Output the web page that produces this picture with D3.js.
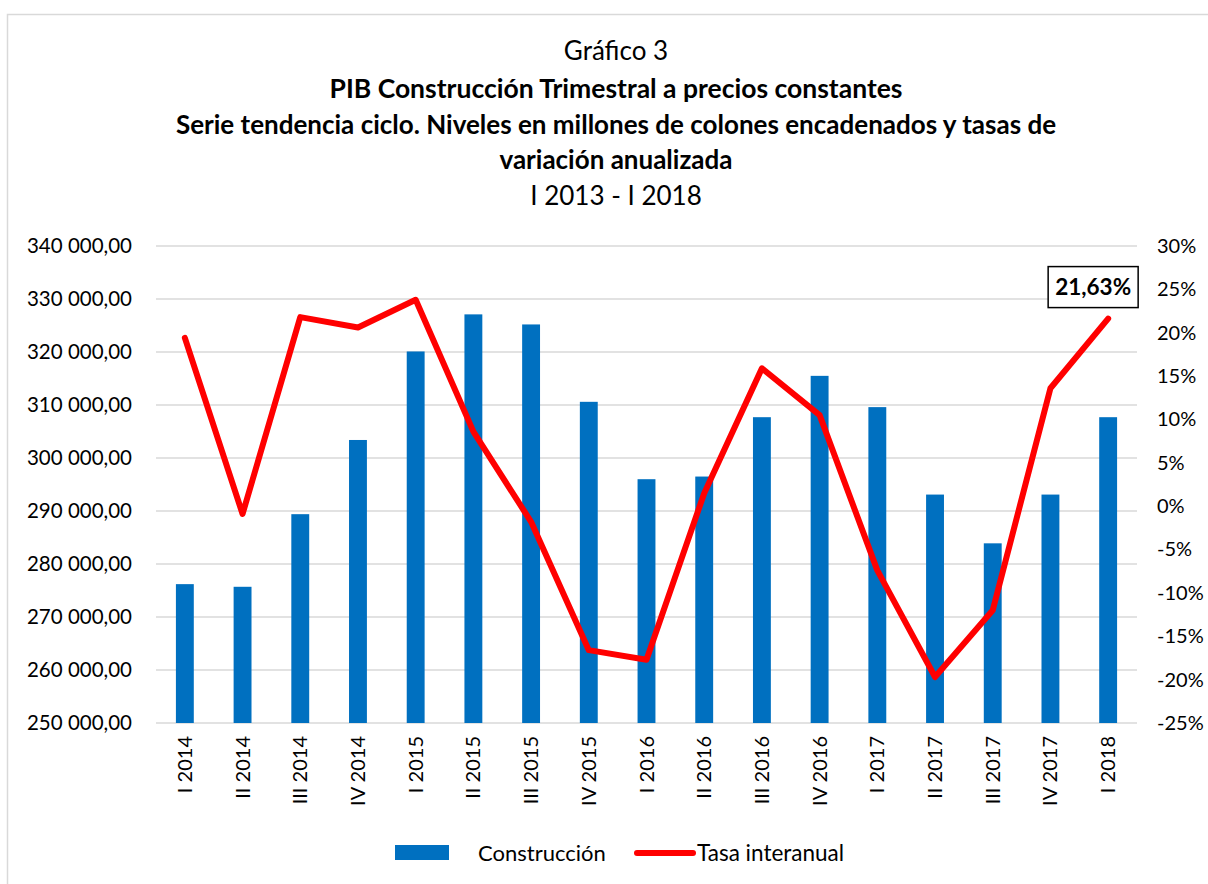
<!DOCTYPE html>
<html>
<head>
<meta charset="utf-8">
<script src="https://cdn.jsdelivr.net/npm/d3@7"></script>
<style>
  body { margin: 0; background: #fff; }
  svg { display: block; font-family: Lato, "Open Sans", sans-serif; }
</style>
</head>
<body>
<svg id="chart" width="1208" height="884"></svg>
<script>
// Quarters shown on the x axis
const quarters = ["I 2014", "II 2014", "III 2014", "IV 2014", "I 2015", "II 2015", "III 2015", "IV 2015",
  "I 2016", "II 2016", "III 2016", "IV 2016", "I 2017", "II 2017", "III 2017", "IV 2017", "I 2018"];

// Construcción, millones de colones encadenados
const construccion = [276200, 275700, 289400, 303400, 320100, 327100, 325200, 310600,
  296000, 296500, 307700, 315500, 309600, 293100, 283900, 293100, 307700];

// Tasa interanual, %
const tasa = [19.4, -0.9, 21.8, 20.6, 23.8, 8.6, -1.8, -16.6,
  -17.7, 1.5, 15.9, 10.5, -7.4, -19.7, -12.0, 13.6, 21.63];

const leftTicks = d3.range(250000, 340001, 10000);
const rightTicks = d3.range(-25, 31, 5);

const titleLines = [
  { text: "Gráfico 3", bold: false, y: 60, size: 26 },
  { text: "PIB Construcción Trimestral a precios constantes", bold: true, y: 98, size: 26.5 },
  { text: "Serie tendencia ciclo. Niveles en millones de colones encadenados y tasas de", bold: true, y: 134, size: 26 },
  { text: "variación anualizada", bold: true, y: 169, size: 26 },
  { text: "I 2013 - I 2018", bold: false, y: 205, size: 26 },
];

const BLUE = "#0070c0", RED = "#ff0000", GRID = "#d9d9d9";
const plot = { left: 156, right: 1137, top: 246, bottom: 723 };

const svg = d3.select("#chart");

// outer frame
svg.append("rect").attr("x", 7.5).attr("y", 14.5).attr("width", 1220).attr("height", 880)
  .attr("fill", "none").attr("stroke", GRID).attr("stroke-width", 1.5);

// titles
svg.append("g").selectAll("text").data(titleLines).join("text")
  .attr("x", 616).attr("y", d => d.y)
  .attr("text-anchor", "middle")
  .attr("font-size", d => d.size)
  .attr("font-weight", d => d.bold ? 700 : 400)
  .attr("fill", "#000")
  .text(d => d.text);

const x = d3.scaleBand().domain(quarters)
  .range([plot.left, plot.right]).paddingInner(0.69).paddingOuter(0.345);
const yL = d3.scaleLinear().domain([250000, 340000]).range([plot.bottom, plot.top]);
const yR = d3.scaleLinear().domain([-25, 30]).range([plot.bottom, plot.top]);

// gridlines
svg.append("g").selectAll("line").data(leftTicks).join("line")
  .attr("x1", plot.left).attr("x2", plot.right)
  .attr("y1", d => yL(d)).attr("y2", d => yL(d))
  .attr("stroke", GRID).attr("stroke-width", 1.5);

// left axis
const fmtL = v => d3.format(",")(v).replace(/,/g, " ") + ",00";
const axL = svg.append("g").attr("transform", `translate(${plot.left},0)`)
  .call(d3.axisLeft(yL).tickValues(leftTicks).tickFormat(fmtL).tickSize(0).tickPadding(24));
axL.select(".domain").remove();
axL.selectAll("text").attr("font-size", 20.5).attr("fill", "#000").attr("font-family", "Lato, sans-serif");

// right axis
const axR = svg.append("g").attr("transform", `translate(${plot.right},0)`)
  .call(d3.axisRight(yR).tickValues(rightTicks).tickFormat(d => d + "%").tickSize(0).tickPadding(20));
axR.select(".domain").remove();
axR.selectAll("text").attr("font-size", 20).attr("fill", "#000").attr("font-family", "Lato, sans-serif");

// bars
svg.append("g").selectAll("rect").data(quarters).join("rect")
  .attr("x", d => x(d)).attr("width", x.bandwidth())
  .attr("y", (d, i) => yL(construccion[i]))
  .attr("height", (d, i) => yL(250000) - yL(construccion[i]))
  .attr("fill", BLUE);

// x axis labels
const axX = svg.append("g").attr("transform", `translate(0,${plot.bottom})`)
  .call(d3.axisBottom(x).tickSize(0).tickPadding(0));
axX.select(".domain").remove();
axX.selectAll("text")
  .attr("font-size", 20).attr("fill", "#000").attr("font-family", "Lato, sans-serif")
  .attr("text-anchor", "end")
  .attr("transform", "rotate(-90)")
  .attr("x", -13).attr("y", 0).attr("dy", "0.35em");

// line
const line = d3.line()
  .x((d, i) => x(quarters[i]) + x.bandwidth() / 2)
  .y(d => yR(d));
svg.append("path").datum(tasa)
  .attr("d", line).attr("fill", "none")
  .attr("stroke", RED).attr("stroke-width", 6)
  .attr("stroke-linejoin", "round").attr("stroke-linecap", "round");

// last value label
const lastI = tasa.length - 1;
const lx = x(quarters[lastI]) + x.bandwidth() / 2 - 15, ly = yR(tasa[lastI]) - 32;
const lab = svg.append("g");
lab.append("rect").attr("x", lx - 45).attr("y", ly - 20).attr("width", 90).attr("height", 41)
  .attr("fill", "#fff").attr("stroke", "#000").attr("stroke-width", 1.5);
lab.append("text").attr("x", lx).attr("y", ly + 8).attr("text-anchor", "middle")
  .attr("font-size", 22.5).attr("font-weight", 700)
  .text(d3.format(".2f")(tasa[lastI]).replace(".", ",") + "%");

// legend
const leg = svg.append("g");
leg.append("rect").attr("x", 395).attr("y", 845).attr("width", 54).attr("height", 15).attr("fill", BLUE);
leg.append("text").attr("x", 478).attr("y", 861).attr("font-size", 22).text("Construcción");
leg.append("line").attr("x1", 637).attr("x2", 693).attr("y1", 853).attr("y2", 853)
  .attr("stroke", RED).attr("stroke-width", 6).attr("stroke-linecap", "round");
leg.append("text").attr("x", 697).attr("y", 861).attr("font-size", 22.5).text("Tasa interanual");
</script>
</body>
</html>
